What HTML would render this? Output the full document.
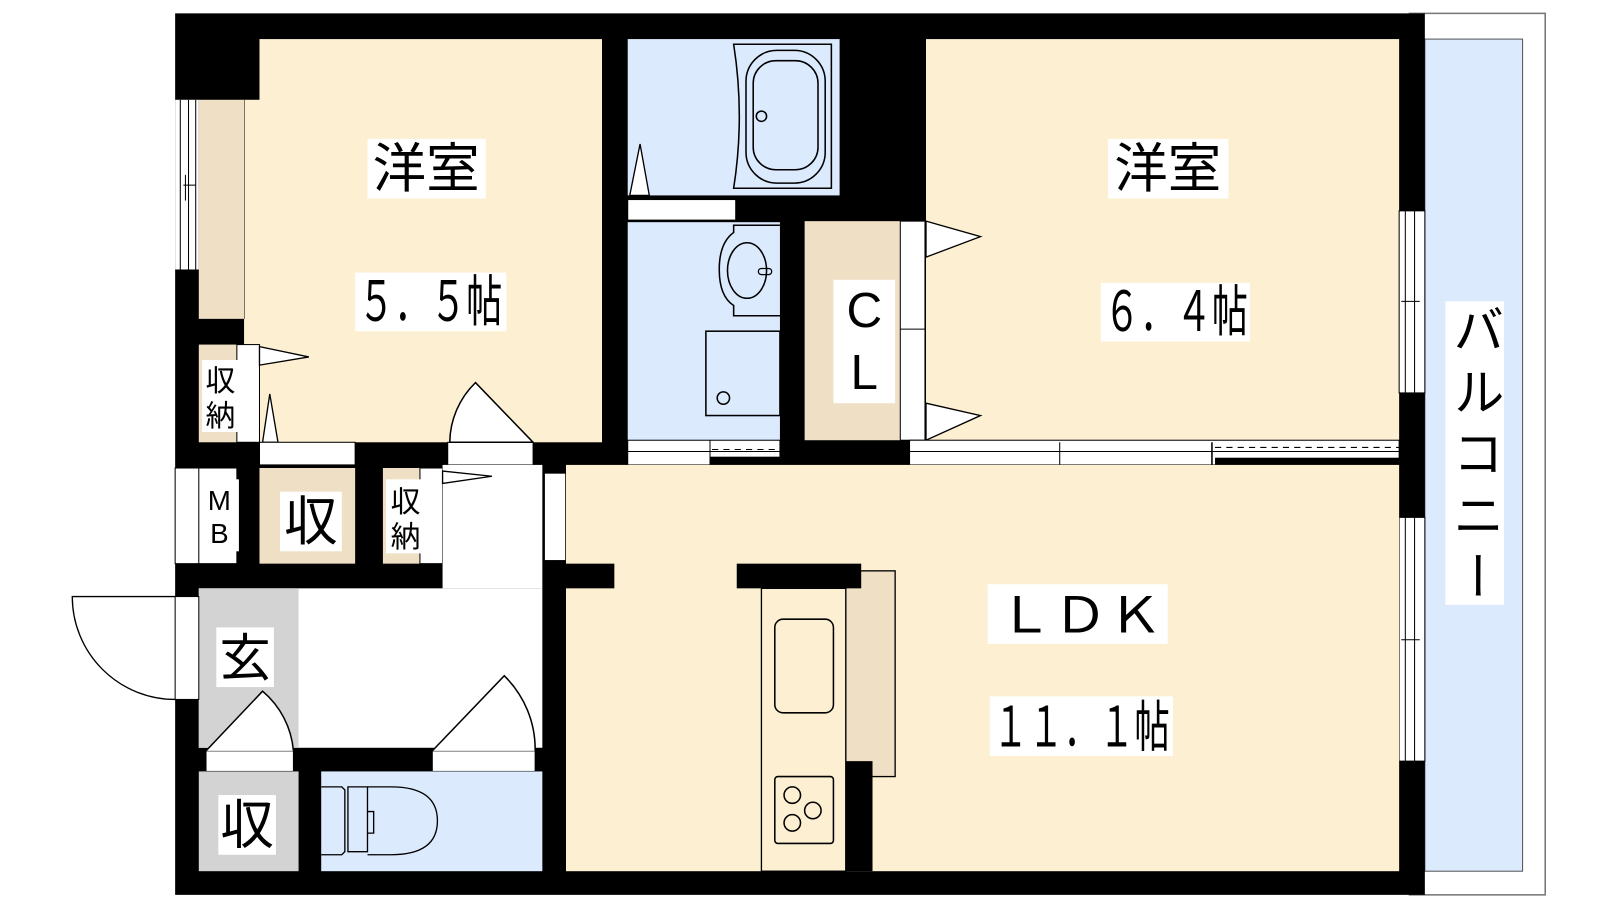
<!DOCTYPE html>
<html><head><meta charset="utf-8"><style>
html,body{margin:0;padding:0;background:#fff;}
svg{display:block}
text{font-family:"Liberation Sans","Noto Sans CJK JP",sans-serif;fill:#000}
</style></head><body>
<svg width="1600" height="900" viewBox="0 0 1555 875" xmlns="http://www.w3.org/2000/svg">
<rect width="1555" height="875" fill="#fff"/>
<rect x="1370" y="13" width="132" height="857" fill="#fff" stroke="#777" stroke-width="1.5"/>
<rect x="1385" y="38" width="95" height="809" fill="#dbeafd" stroke="#555" stroke-width="1"/>
<rect x="170" y="13" width="1215" height="857" fill="#000"/>
<!-- room1 -->
<rect x="252" y="38" width="333" height="392" fill="#fdf0d2"/>
<rect x="237" y="97" width="20" height="333" fill="#fdf0d2"/>
<line x1="237" y1="97" x2="237" y2="310" stroke="#000" stroke-width="1"/>
<rect x="193" y="97" width="44" height="213" fill="#efdfc5"/>
<rect x="170" y="97" width="23" height="165" fill="#fff"/>
<g stroke="#000" stroke-width="1"><line x1="175" y1="97" x2="175" y2="262"/><line x1="183" y1="97" x2="183" y2="262"/><line x1="190" y1="97" x2="190" y2="262"/><line x1="178" y1="180" x2="190" y2="180"/><line x1="180" y1="170" x2="180" y2="195"/></g>
<rect x="193" y="335" width="37" height="95" fill="#efdfc5"/>
<rect x="230" y="335" width="22" height="95" fill="#fff" stroke="#000" stroke-width="1"/>
<polygon points="252,337 300,347 252,355" fill="#fff" stroke="#000" stroke-width="1.3"/>
<polygon points="255,430 262,383 270,430" fill="#fff" stroke="#000" stroke-width="1.3"/>
<rect x="252" y="430" width="93" height="22" fill="#fff" stroke="#000" stroke-width="1"/>
<rect x="435" y="430" width="83" height="22" fill="#fff" stroke="#000" stroke-width="1"/>
<path d="M518,430 L462,372 A82,82 0 0 0 437,430 Z" fill="#fff" stroke="#000" stroke-width="1.5"/>
<!-- bath -->
<rect x="610" y="38" width="206" height="152" fill="#dbeafd"/>
<path d="M713,43 L808,43 L808,183 L713,183 Q724,113 713,43 Z" fill="none" stroke="#000" stroke-width="1.5"/>
<rect x="725" y="49" width="77" height="129" rx="30" fill="none" stroke="#000" stroke-width="1.5"/>
<rect x="732" y="59" width="63" height="106" rx="22" fill="none" stroke="#000" stroke-width="1.5"/>
<circle cx="740" cy="113" r="5" fill="none" stroke="#000" stroke-width="1.5"/>
<polygon points="612,190 622,140 631,190" fill="#fff" stroke="#000" stroke-width="1.3"/>
<rect x="610" y="194" width="105" height="20" fill="#fff" stroke="#000" stroke-width="1"/>
<!-- wash -->
<rect x="610" y="216" width="148" height="214" fill="#dbeafd"/>
<path d="M758,219 L713,219 L713,226 Q699,236 699,262 Q699,288 713,297 L713,307 L758,307" fill="none" stroke="#000" stroke-width="1.5"/>
<ellipse cx="726" cy="263" rx="19" ry="27" fill="none" stroke="#000" stroke-width="1.5"/>
<rect x="737" y="261" width="13" height="6" rx="3" fill="none" stroke="#000" stroke-width="1.2"/>
<rect x="686" y="322" width="72" height="82" fill="none" stroke="#000" stroke-width="1.5"/>
<circle cx="703" cy="387" r="6" fill="none" stroke="#000" stroke-width="1.5"/>
<rect x="610" y="428" width="148" height="24" fill="#fff" stroke="#000" stroke-width="1"/>
<line x1="610" y1="439" x2="758" y2="439" stroke="#000" stroke-width="1"/>
<line x1="690" y1="428" x2="690" y2="452" stroke="#000" stroke-width="1"/>
<line x1="692" y1="437" x2="758" y2="437" stroke="#000" stroke-width="1" stroke-dasharray="6,5"/>
<rect x="690" y="444" width="68" height="8" fill="#000"/>
<!-- CL -->
<rect x="782" y="215" width="93" height="213" fill="#efdfc5"/>
<rect x="875" y="215" width="24" height="213" fill="#fff" stroke="#000" stroke-width="1"/>
<line x1="875" y1="320" x2="899" y2="320" stroke="#000" stroke-width="1"/>
<!-- room2 -->
<rect x="900" y="38" width="460" height="390" fill="#fdf0d2"/>
<polygon points="900,215 953,230 900,250" fill="#fff" stroke="#000" stroke-width="1.3"/>
<polygon points="900,392 953,404 900,428" fill="#fff" stroke="#000" stroke-width="1.3"/>
<rect x="884" y="428" width="476" height="24" fill="#fff" stroke="#000" stroke-width="1"/>
<line x1="884" y1="439" x2="1360" y2="439" stroke="#000" stroke-width="1"/>
<line x1="1030" y1="430" x2="1030" y2="452" stroke="#000" stroke-width="1"/>
<line x1="1178" y1="430" x2="1178" y2="452" stroke="#000" stroke-width="1.5"/>
<line x1="1181" y1="435" x2="1360" y2="435" stroke="#000" stroke-width="1" stroke-dasharray="6,5"/>
<rect x="1181" y="445" width="179" height="7" fill="#000"/>
<g fill="#fff" stroke="#000" stroke-width="1">
<rect x="1360" y="205" width="25" height="177"/><rect x="1360" y="503" width="25" height="237"/>
</g>
<g stroke="#000" stroke-width="1"><line x1="1366" y1="205" x2="1366" y2="382"/><line x1="1375" y1="205" x2="1375" y2="382"/><line x1="1366" y1="503" x2="1366" y2="740"/><line x1="1375" y1="503" x2="1375" y2="740"/><line x1="1362" y1="293" x2="1380" y2="293"/><line x1="1362" y1="622" x2="1380" y2="622"/></g>
<!-- row 2 -->
<rect x="170" y="455" width="60" height="93" fill="#fff" stroke="#000" stroke-width="1"/>
<line x1="193" y1="455" x2="193" y2="548" stroke="#000" stroke-width="1"/>
<rect x="252" y="455" width="93" height="93" fill="#efdfc5"/>
<rect x="372" y="455" width="36" height="93" fill="#efdfc5"/>
<rect x="408" y="455" width="22" height="93" fill="#fff" stroke="#000" stroke-width="1"/>
<rect x="430" y="452" width="97" height="120" fill="#fff"/>
<rect x="193" y="572" width="334" height="155" fill="#fff"/>
<rect x="193" y="572" width="97" height="155" fill="#d3d3d3"/>
<polygon points="430,458 478,463 430,470" fill="#fff" stroke="#000" stroke-width="1.3"/>
<rect x="170" y="580" width="23" height="100" fill="#fff" stroke="#000" stroke-width="1"/>
<path d="M170,580 L70,580 A100,100 0 0 0 170,680" fill="none" stroke="#000" stroke-width="1.3"/>
<rect x="529" y="460" width="21" height="85" fill="#fff" stroke="#000" stroke-width="1"/>
<path d="M550,460 L607,520 A82,82 0 0 1 550,545 Z" fill="#fff" stroke="#000" stroke-width="1.5"/>
<rect x="200" y="730" width="85" height="20" fill="#fff" stroke="#000" stroke-width="1"/>
<path d="M200,730 L255,672 A85,85 0 0 1 285,730" fill="#fff" stroke="#000" stroke-width="1.5"/>
<rect x="420" y="730" width="100" height="20" fill="#fff" stroke="#000" stroke-width="1"/>
<path d="M420,730 L490,657 A100,100 0 0 1 520,730" fill="#fff" stroke="#000" stroke-width="1.5"/>
<rect x="193" y="750" width="97" height="97" fill="#d3d3d3"/>
<rect x="312" y="750" width="215" height="97" fill="#dbeafd"/>
<g fill="none" stroke="#000" stroke-width="1.3">
<path d="M312,765 L332,765 L335,768 L335,828 L332,831 L312,831"/>
<path d="M338,765 L357,765 L357,828 L338,828 Z"/>
<path d="M357,765 L380,765 Q425,765 425,798 Q425,831 380,831 L357,831"/>
<path d="M357,789 L363,789 L363,810 L357,810"/>
</g>
<!-- LDK -->
<rect x="550" y="452" width="810" height="395" fill="#fdf0d2"/>
<rect x="550" y="548" width="47" height="24" fill="#000"/>
<rect x="822" y="555" width="48" height="200" fill="#efdfc5" stroke="#000" stroke-width="1.3"/>
<rect x="740" y="572" width="82" height="275" fill="#fdf0d2" stroke="#000" stroke-width="1.3"/>
<rect x="716" y="548" width="121" height="24" fill="#000"/>
<rect x="822" y="740" width="26" height="107" fill="#000"/>
<rect x="753" y="602" width="57" height="91" rx="8" fill="none" stroke="#000" stroke-width="1.5"/>
<rect x="753" y="755" width="57" height="65" rx="3" fill="none" stroke="#000" stroke-width="1.5"/>
<g fill="none" stroke="#000" stroke-width="1.5"><circle cx="770" cy="773" r="8"/><circle cx="790" cy="788" r="8"/><circle cx="770" cy="800" r="8"/></g>
<!-- labels -->
<g fill="#fff">
<rect x="357" y="135" width="115" height="58"/><rect x="345" y="265" width="147" height="57"/>
<rect x="1077" y="135" width="117" height="58"/><rect x="1070" y="275" width="145" height="57"/>
<rect x="810" y="272" width="60" height="120"/>
<rect x="960" y="568" width="175" height="58"/><rect x="962" y="677" width="178" height="58"/>
<rect x="1405" y="293" width="57" height="295"/>
<rect x="210" y="610" width="56" height="58"/><rect x="272" y="478" width="60" height="58"/>
<rect x="212" y="773" width="56" height="58"/>
<rect x="196" y="350" width="36" height="70"/><rect x="196" y="466" width="36" height="70"/>
<rect x="375" y="466" width="36" height="72"/>
</g>
<text x="414" y="182" font-size="52" text-anchor="middle">洋室</text>
<text x="348" y="312" font-size="54" textLength="140" lengthAdjust="spacingAndGlyphs">５．５帖</text>
<text x="1135" y="182" font-size="52" text-anchor="middle">洋室</text>
<text x="1073" y="322" font-size="54" textLength="140" lengthAdjust="spacingAndGlyphs">６．４帖</text>
<text x="840" y="318" font-size="48" text-anchor="middle">C</text>
<text x="840" y="378" font-size="48" text-anchor="middle">L</text>
<text x="970" y="615" font-size="48" textLength="160" lengthAdjust="spacingAndGlyphs">ＬＤＫ</text>
<text x="965" y="726" font-size="54" textLength="172" lengthAdjust="spacingAndGlyphs">１１．１帖</text>
<text x="1433" y="295" font-size="50" style="writing-mode:vertical-rl" textLength="290" lengthAdjust="spacing">バルコニー</text>
<text x="238" y="657" font-size="50" text-anchor="middle">玄</text>
<text x="302" y="525" font-size="52" text-anchor="middle">収</text>
<text x="240" y="820" font-size="52" text-anchor="middle">収</text>
<text x="214" y="380" font-size="29" text-anchor="middle">収</text>
<text x="214" y="414" font-size="29" text-anchor="middle">納</text>
<text x="213" y="496" font-size="27" text-anchor="middle">M</text>
<text x="213" y="528" font-size="27" text-anchor="middle">B</text>
<text x="394" y="498" font-size="29" text-anchor="middle">収</text>
<text x="394" y="532" font-size="29" text-anchor="middle">納</text>
</svg>
</body></html>
